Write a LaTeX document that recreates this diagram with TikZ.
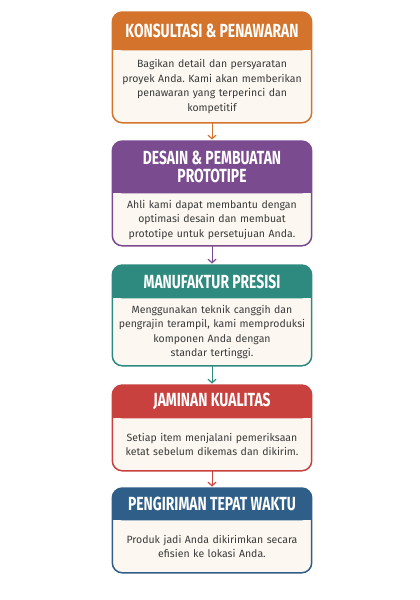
\documentclass[tikz,border=0pt]{standalone}
\usepackage{fontspec}
\setmainfont{Fira Sans}
\newfontfamily\headfont[FakeStretch=0.73]{Fira Sans}
\usetikzlibrary{positioning,backgrounds,arrows.meta}
\frenchspacing

\definecolor{konsulC}{HTML}{D4742C}
\definecolor{desainC}{HTML}{7B4B8F}
\definecolor{manufC}{HTML}{2E8A7E}
\definecolor{jaminC}{HTML}{C8413F}
\definecolor{kirimC}{HTML}{2F5E88}
\definecolor{cream}{HTML}{FCF8F1}
\definecolor{bodytext}{HTML}{3A3A3A}

\tikzset{
	head/.style={anchor=north, text=white, align=center, inner sep=0pt,
		minimum width=199pt, font=\headfont\bfseries\fontsize{19}{18}\selectfont},
	body/.style={text=bodytext, align=center, inner xsep=1pt, inner ysep=0pt,
		text width=197pt, font=\fontsize{10.5}{14.5}\selectfont},
	flow/.style={draw=#1, line width=0.9pt, shorten >=1.5pt,
		-{Straight Barb[length=3.5pt,width=8pt,line width=1.2pt]}},
}

\begin{document}
\begin{tikzpicture}[x=1pt,y=1pt]
	
	\useasboundingbox (0,0) rectangle (420,-600);
	
	\node[head, minimum height=38pt] (kh) at (212,-12) {KONSULTASI \& PENAWARAN};
	\node[body, below=0pt of kh, minimum height=72pt] (kb) {Bagikan detail dan persyaratan\\proyek Anda. Kami akan memberikan\\penawaran yang terperinci dan\\kompetitif};
	
	\node[head, minimum height=52pt] (dh) at (212,-141) {DESAIN \& PEMBUATAN\\PROTOTIPE};
	\node[body, below=0pt of dh, minimum height=52pt] (db) {Ahli kami dapat membantu dengan\\optimasi desain dan membuat\\prototipe untuk persetujuan Anda.};
	
	\node[head, minimum height=33pt] (mh) at (212,-265) {MANUFAKTUR PRESISI};
	\node[body, below=0pt of mh, minimum height=67pt] (mb) {Menggunakan teknik canggih dan\\pengrajin terampil, kami memproduksi\\komponen Anda dengan\\standar tertinggi.};
	
	\node[head, minimum height=33pt] (jh) at (212,-385) {JAMINAN KUALITAS};
	\node[body, below=0pt of jh, minimum height=52pt] (jb) {Setiap item menjalani pemeriksaan\\ketat sebelum dikemas dan dikirim.};
	
	\node[head, minimum height=32pt] (ph) at (212,-488) {PENGIRIMAN TEPAT WAKTU};
	\node[body, below=0pt of ph, minimum height=52pt] (pb) {Produk jadi Anda dikirimkan secara\\efisien ke lokasi Anda.};
	
	\begin{scope}[on background layer]
		\foreach \h/\b/\c in {kh/kb/konsulC, dh/db/desainC, mh/mb/manufC, jh/jb/jaminC, ph/pb/kirimC} {
			\fill[cream, rounded corners=10pt] (\h.north west) rectangle (\b.south east);
			\fill[\c, rounded corners=10pt] (\h.north west) rectangle (\h.south east);
			\fill[\c] (\h.west) rectangle (\h.south east);
			\draw[\c, line width=1.5pt, rounded corners=10pt] (\h.north west) rectangle (\b.south east);
		}
	\end{scope}
	
	\draw[flow=konsulC] (kb.south) -- (dh.north);
	\draw[flow=desainC] (db.south) -- (mh.north);
	\draw[flow=manufC] (mb.south) -- (jh.north);
	\draw[flow=jaminC] (jb.south) -- (ph.north);
	
\end{tikzpicture}
\end{document}
